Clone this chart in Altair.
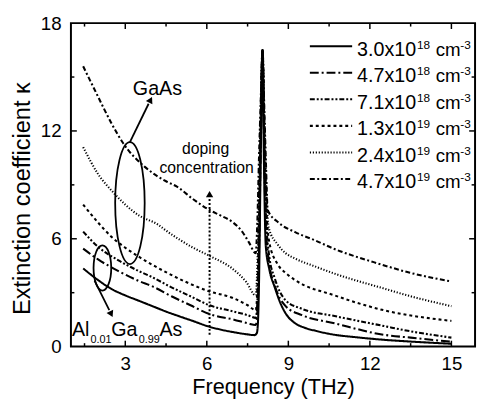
import altair as alt
import pandas as pd

FONT = "Liberation Sans"

mantissa = ["3.0", "4.7", "7.1", "1.3", "2.4", "4.7"]
exponent = ["18", "18", "18", "19", "19", "19"]
series = [f"{m}x10^{e} cm^-3" for m, e in zip(mantissa, exponent)]

f_s1 = [1.45, 2.0, 2.5, 3.0, 3.5, 4.0, 4.5, 5.0, 5.5, 6.0, 6.5, 7.0, 7.5, 7.75, 7.84, 7.88, 7.92, 7.97, 8.05,
        8.1, 8.17, 8.3, 8.5, 8.7, 8.9, 9.25, 9.6, 10.0, 10.7, 11.5, 12.5, 13.5, 15.0]
k_s1 = [4.35, 3.7, 3.2, 2.85, 2.55, 2.25, 1.95, 1.68, 1.42, 1.15, 0.95, 0.8, 0.68, 0.64, 0.75, 1.3, 3.5, 9.0, 16.5,
        10.5, 5.6, 4.3, 3.3, 2.45, 1.85, 1.3, 1.05, 0.88, 0.66, 0.52, 0.38, 0.28, 0.16]

f_s2 = [1.45, 2.0, 2.75, 3.5, 4.0, 4.7, 5.4, 6.1, 7.0, 7.5, 7.8, 7.87, 7.93, 7.98, 8.05,
        8.11, 8.17, 8.3, 8.5, 8.9, 9.5, 10.7, 12.5, 13.5, 15.0]
k_s2 = [5.45, 4.85, 4.2, 3.65, 3.35, 2.8, 2.3, 1.81, 1.5, 1.3, 1.2, 2.2, 6.0, 11.0, 16.5,
        11.0, 6.8, 4.6, 3.4, 2.25, 1.75, 1.3, 0.66, 0.5, 0.27]

f_s3 = [1.45, 2.0, 2.75, 3.5, 3.94, 4.7, 5.4, 6.1, 7.0, 7.5, 7.8, 7.87, 7.93, 7.98, 8.05,
        8.11, 8.18, 8.3, 8.5, 8.9, 9.5, 10.7, 12.5, 13.5, 15.0]
k_s3 = [6.4, 5.55, 4.8, 4.2, 3.9, 3.3, 2.8, 2.3, 1.95, 1.75, 1.6, 2.8, 6.5, 11.5, 16.5,
        11.5, 7.2, 5.0, 3.8, 2.58, 2.1, 1.7, 1.15, 0.85, 0.5]

f_s4 = [1.45, 2.0, 2.5, 3.0, 3.5, 4.55, 5.3, 6.1, 6.97, 7.5, 7.8, 7.86, 7.92, 7.98, 8.05,
        8.12, 8.2, 8.3, 8.6, 8.9, 9.25, 10.7, 12.5, 15.0]
k_s4 = [7.9, 6.9, 6.1, 5.5, 5.0, 4.1, 3.55, 3.07, 2.7, 2.3, 2.03, 3.2, 7.0, 12.0, 16.5,
        12.0, 7.5, 5.8, 4.6, 4.1, 3.7, 2.85, 2.03, 1.43]

f_s5 = [1.45, 2.0, 2.57, 3.0, 3.5, 4.19, 4.55, 5.0, 5.5, 6.1, 6.97, 7.45, 7.8, 7.86, 7.92, 7.98, 8.05,
        8.12, 8.2, 8.28, 8.6, 8.9, 9.25, 10.0, 10.7, 12.5, 13.5, 15.0]
k_s5 = [11.1, 9.6, 8.56, 7.9, 7.3, 6.8, 6.4, 5.95, 5.5, 5.05, 4.3, 3.6, 2.85, 4.5, 8.5, 13.0, 16.5,
        12.5, 8.3, 6.6, 5.7, 5.2, 4.9, 4.45, 4.06, 3.24, 2.8, 2.25]

f_s6 = [1.45, 2.0, 2.5, 2.93, 3.72, 4.5, 4.9, 5.5, 6.1, 6.5, 6.97, 7.3, 7.55, 7.8, 7.86, 7.92, 7.98, 8.05,
        8.12, 8.18, 8.24, 8.64, 9.25, 10.0, 10.7, 12.14, 13.5, 15.0]
k_s6 = [15.6, 13.9, 12.4, 11.3, 10.0, 9.2, 8.9, 8.2, 7.6, 7.3, 6.9, 6.4, 5.8, 5.2, 7.0, 10.5, 13.5, 16.5,
        13.0, 10.0, 7.6, 6.9, 6.37, 5.9, 5.43, 4.7, 4.1, 3.62]

x_major = [3, 6, 9, 12, 15]
x_minor = [1.5, 4.5, 7.5, 10.5, 13.5]
y_major = [6, 12]
y_minor = [3, 9, 15]

freqs = [f_s1, f_s2, f_s3, f_s4, f_s5, f_s6]
kappas = [k_s1, k_s2, k_s3, k_s4, k_s5, k_s6]
rows = []
for name, fs, ks in zip(series, freqs, kappas):
    for f, k in zip(fs, ks):
        rows.append({"series": name, "f": f, "k": k})
df = pd.DataFrame(rows)

XMIN, XMAX = 1.0, 15.87
YMIN, YMAX = 0.0, 18.0
W, H = 411, 329
xu = (XMAX - XMIN) / W   # data units per pixel
yu = (YMAX - YMIN) / H

xscale = alt.Scale(domain=[XMIN, XMAX], nice=False, zero=False)
yscale = alt.Scale(domain=[YMIN, YMAX], nice=False, zero=False)

dashes = [[1, 0], [9, 3, 2, 3], [5, 2, 2, 2, 2, 2], [3, 3], [1.2, 1.8], [5, 2.5, 2, 2.5]]
LW = 2.1

lines = alt.Chart(df).mark_line(strokeWidth=LW, interpolate="monotone", color="black").encode(
    x=alt.X("f:Q", scale=xscale,
            axis=alt.Axis(values=x_major, title="Frequency (THz)", ticks=False, domain=False, grid=False,
                          labelFont=FONT, labelFontSize=19, labelColor="black", labelPadding=8,
                          titleFont=FONT, titleFontSize=22, titleFontWeight="normal", titleColor="black",
                          titlePadding=4)),
    y=alt.Y("k:Q", scale=yscale,
            axis=alt.Axis(values=[0, 6, 12, 18], title="Extinction coefficient κ", ticks=False, domain=False,
                          grid=False, labelFont=FONT, labelFontSize=19, labelColor="black", labelPadding=10,
                          titleFont=FONT, titleFontSize=24, titleFontWeight="normal", titleColor="black",
                          titleX=-42, titleY=178, titleAlign="center", titleBaseline="alphabetic",
                          titleAngle=270)),
    strokeDash=alt.StrokeDash("series:N", sort=series, scale=alt.Scale(domain=series, range=dashes),
                              legend=None),
)

# inward ticks on all four sides
tick_rows = []
for v in x_major:
    tick_rows.append({"x": v, "x2": v, "y": YMIN, "y2": YMIN + 6 * yu})
    tick_rows.append({"x": v, "x2": v, "y": YMAX, "y2": YMAX - 6 * yu})
for v in x_minor:
    tick_rows.append({"x": v, "x2": v, "y": YMIN, "y2": YMIN + 3.5 * yu})
    tick_rows.append({"x": v, "x2": v, "y": YMAX, "y2": YMAX - 3.5 * yu})
for v in y_major:
    tick_rows.append({"x": XMIN, "x2": XMIN + 6 * xu, "y": v, "y2": v})
    tick_rows.append({"x": XMAX, "x2": XMAX - 6 * xu, "y": v, "y2": v})
for v in y_minor:
    tick_rows.append({"x": XMIN, "x2": XMIN + 3.5 * xu, "y": v, "y2": v})
    tick_rows.append({"x": XMAX, "x2": XMAX - 3.5 * xu, "y": v, "y2": v})
ticks = alt.Chart(pd.DataFrame(tick_rows)).mark_rule(color="black", strokeWidth=1.5).encode(
    x=alt.X("x:Q", scale=xscale), x2="x2:Q", y=alt.Y("y:Q", scale=yscale), y2="y2:Q")

one = pd.DataFrame({"a": [0]})
OX, OY = 72, 20  # plot origin on the page


def txt(s, px, py, size, align="left", baseline="alphabetic"):
    return alt.Chart(one).mark_text(text=s, font=FONT, fontSize=size, color="black", align=align,
                                    baseline=baseline).encode(x=alt.value(px - OX), y=alt.value(py - OY))


def seg(x1, y1, x2, y2, dash=None, width=1.8):
    kw = {"color": "black", "strokeWidth": width}
    if dash:
        kw["strokeDash"] = dash
    return alt.Chart(one).mark_rule(**kw).encode(
        x=alt.value(x1 - OX), y=alt.value(y1 - OY), x2=alt.value(x2 - OX), y2=alt.value(y2 - OY))


def head(px, py, angle, size=55):
    return alt.Chart(one).mark_point(shape="triangle-up", filled=True, color="black", size=size,
                                     angle=angle, opacity=1).encode(x=alt.value(px - OX), y=alt.value(py - OY))


def ellipse(cx, cy, rx, ry):
    r = rx / ry
    path = f"M0,-1 A{r:.3f},1 0 1,1 0,1 A{r:.3f},1 0 1,1 0,-1 Z"
    return alt.Chart(one).mark_point(shape=path, filled=False, color="black", strokeWidth=1.8,
                                     size=(2 * ry) ** 2, opacity=1).encode(x=alt.value(cx - OX), y=alt.value(cy - OY))


annos = [
    ellipse(132, 203, 15, 62),
    seg(132, 141, 151, 102),
    head(153, 98, 27),
    txt("GaAs", 135, 93, 20),
    ellipse(104, 269, 9, 23),
    seg(96, 282, 111, 312),
    head(113, 316, 154),
    txt("Al", 73, 338, 20),
    txt("0.01", 92, 345, 11),
    txt("Ga", 113, 338, 20),
    txt("0.99", 141, 345, 11),
    txt("As", 162, 338, 20),
    txt("doping", 209, 153, 16, align="center"),
    txt("concentration", 210, 172, 16, align="center"),
    seg(213, 337, 213, 198, dash=[2, 2], width=2),
    head(213, 194, 0),
]

# hand-made legend (superscripts need separate text pieces)
legend = []
for i, (m, e) in enumerate(zip(mantissa, exponent)):
    yy = 43.5 + 27 * i
    kw = {"color": "black", "strokeWidth": LW}
    if i > 0:
        kw["strokeDash"] = dashes[i]
    legend.append(alt.Chart(one).mark_rule(**kw).encode(
        x=alt.value(315 - OX), x2=alt.value(358 - OX), y=alt.value(yy - OY), y2=alt.value(yy - OY)))
    legend.append(txt(f"{m}x10", 363, yy + 9.5, 20))
    legend.append(txt(e, 424, yy + 2.5, 12))
    legend.append(txt("cm", 443, yy + 9.5, 19))
    legend.append(txt("-3", 468, yy + 2.5, 12))

chart = alt.layer(lines, ticks, *annos, *legend).properties(
    width=W, height=H,
    autosize=alt.AutoSizeParams(type="none"),
    padding={"left": 64, "top": 12, "right": 3, "bottom": 55},
).configure_view(stroke="black", strokeWidth=2)

chart.save("out.html", embed_options={"renderer": "svg", "actions": False})
